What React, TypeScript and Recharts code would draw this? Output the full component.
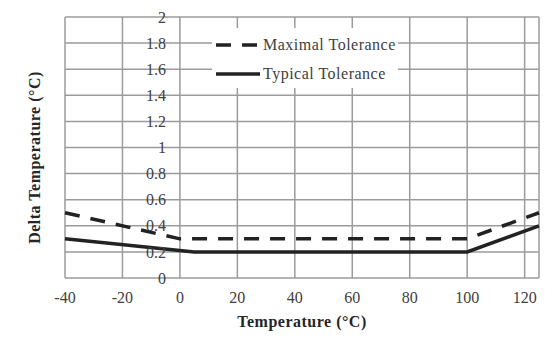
import React from 'react';
import { LineChart, Line, XAxis, YAxis, CartesianGrid, ReferenceDot, Legend } from 'recharts';

const FONT = '"Liberation Serif", "Times New Roman", serif';

const xTicks = [-40, -20, 0, 20, 40, 60, 80, 100, 120];
const yTicks = [0, 0.2, 0.4, 0.6, 0.8, 1, 1.2, 1.4, 1.6, 1.8, 2];
const yTickLabels = ['0', '0.2', '0.4', '0.6', '0.8', '1', '1.2', '1.4', '1.6', '1.8', '2'];

const maximalTemps = [-40, 0, 100, 125];
const maximalValues = [0.5, 0.3, 0.3, 0.5];
const typicalTemps = [-40, 5, 100, 125];
const typicalValues = [0.3, 0.2, 0.2, 0.4];

const maximalData = maximalTemps.map((t, i) => ({ t, v: maximalValues[i] }));
const typicalData = typicalTemps.map((t, i) => ({ t, v: typicalValues[i] }));

const XTitle = (props: any) => {
  const vb = props.viewBox || { x: 65, y: 278, width: 474, height: 69 };
  return (
    <text x={vb.x + vb.width / 2} y={vb.y + 49} textAnchor="middle" fontFamily={FONT} fontWeight="bold" fontSize={16} letterSpacing={0.5} fill="#262626">
      Temperature (°C)
    </text>
  );
};

const YTitle = (props: any) => {
  const vb = props.viewBox || { x: 0, y: 17, width: 65, height: 261 };
  const cx = vb.x + 40;
  const cy = vb.y + vb.height / 2 + 10;
  return (
    <text x={cx} y={cy} transform={`rotate(-90, ${cx}, ${cy})`} textAnchor="middle" fontFamily={FONT} fontWeight="bold" fontSize={16} letterSpacing={0.5} fill="#262626">
      Delta Temperature (°C)
    </text>
  );
};

const EmptyTick = () => <g />;

const LegendContent = (props: any) => {
  const payload = props.payload || [];
  return (
    <div style={{ background: '#fff', width: 186, height: 60, paddingTop: 2, boxSizing: 'border-box' }}>
      {payload.map((item: any, i: number) => (
        <div key={i} style={{ display: 'flex', alignItems: 'center', height: 29, fontFamily: FONT, fontSize: 16, letterSpacing: 0.5, color: '#404040' }}>
          <svg width={47} height={10} style={{ marginLeft: 4, flexShrink: 0 }}>
            <line x1={0} y1={5} x2={44} y2={5} stroke="#222" strokeWidth={3.5} strokeDasharray={item.payload?.strokeDasharray} />
          </svg>
          <span style={{ whiteSpace: 'nowrap' }}>{item.value}</span>
        </div>
      ))}
    </div>
  );
};

export default function App() {
  return (
    <div style={{ position: 'absolute', left: 0, top: 0, width: 554, height: 347, background: '#fff' }}>
      <LineChart width={554} height={347} margin={{ top: 17, right: 15, bottom: 0, left: 0 }}>
        <CartesianGrid stroke="#9b9b9b" strokeWidth={1.5} />
        <XAxis
          type="number"
          dataKey="t"
          domain={[-40, 125]}
          ticks={xTicks}
          axisLine={false}
          tickLine={false}
          height={69}
          tickMargin={8}
          tick={{ fill: '#404040', fontSize: 16, fontFamily: FONT }}
          label={XTitle}
        />
        <YAxis
          type="number"
          domain={[0, 2]}
          ticks={yTicks}
          width={65}
          tick={EmptyTick}
          axisLine={false}
          tickLine={false}
          label={YTitle}
        />
        {yTicks.map((v, i) => (
          <ReferenceDot
            key={i}
            x={0}
            y={v}
            r={0}
            stroke="none"
            fill="none"
            label={{ value: yTickLabels[i], position: 'left', offset: 14, fill: '#404040', fontSize: 16, fontFamily: FONT }}
          />
        ))}
        <Line
          data={typicalData}
          dataKey="v"
          name="Typical Tolerance"
          stroke="#222"
          strokeWidth={3.5}
          dot={false}
          isAnimationActive={false}
        />
        <Line
          data={maximalData}
          dataKey="v"
          name="Maximal Tolerance"
          stroke="#222"
          strokeWidth={3.5}
          strokeDasharray="15 11"
          dot={false}
          isAnimationActive={false}
        />
        <Legend
          layout="vertical"
          align="center"
          verticalAlign="middle"
          content={LegendContent}
          wrapperStyle={{ position: 'absolute', top: 28, left: 212, width: 186, height: 60, bottom: 'auto' }}
        />
      </LineChart>
    </div>
  );
}
